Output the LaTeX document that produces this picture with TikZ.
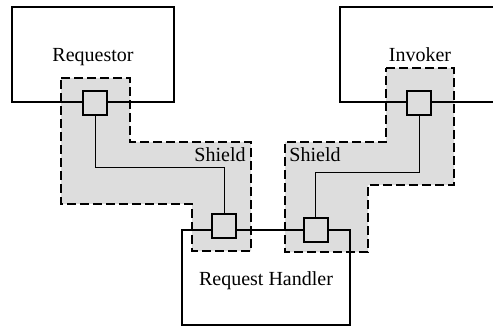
\documentclass[tikz,border=0pt]{standalone}
\usepackage{fontspec}
\setmainfont{Liberation Serif}
\begin{document}
\begin{tikzpicture}[x=1pt,y=-1pt,
  every node/.style={font=\fontsize{20}{24}\selectfont},
  comp/.style={draw,line width=2pt,rectangle,inner sep=0pt,text height=17pt,text depth=2pt},
  port/.style={draw,line width=2pt,fill=shieldgray,rectangle,minimum size=24pt,inner sep=0pt},
  shield/.style={draw,line width=2pt,dash pattern=on 9pt off 4pt,fill=shieldgray},
  wire/.style={line width=1pt}]
\definecolor{shieldgray}{HTML}{DDDDDD}
\useasboundingbox (0,0) rectangle (493,326);
% shields
\draw[shield] (61,78) -- (130,78) -- (130,142) -- (251,142) -- (251,251) -- (192,251) -- (192,204) -- (61,204) -- cycle;
\draw[shield] (386,68) -- (454,68) -- (454,185) -- (368,185) -- (368,252) -- (285,252) -- (285,142) -- (386,142) -- cycle;
\node at (220,155) (sl) {Shield};
\node at (315,155) (sr) {Shield};
% components
\node[comp,minimum width=162pt,minimum height=95pt] (req) at (93,54.5) {Requestor};
\node[comp,minimum width=160pt,minimum height=95pt] (inv) at (420,54.5) {Invoker};
\node[comp,minimum width=168pt,minimum height=95pt] (rh) at (266,277.5) {Request Handler};
% wires
\coordinate (ja) at (95,168);
\coordinate (jb) at (419,173);
\node[port] (pA) at (95,103) {};
\node[port] (pB) at (224,226) {};
\node[port] (pC) at (315.5,230) {};
\node[port] (pD) at (419,103) {};
\draw[wire] (pA.south) |- (ja -| pB) -- (pB.north);
\draw[wire] (pD.south) |- (jb -| pC) -- (pC.north);
\end{tikzpicture}
\end{document}
